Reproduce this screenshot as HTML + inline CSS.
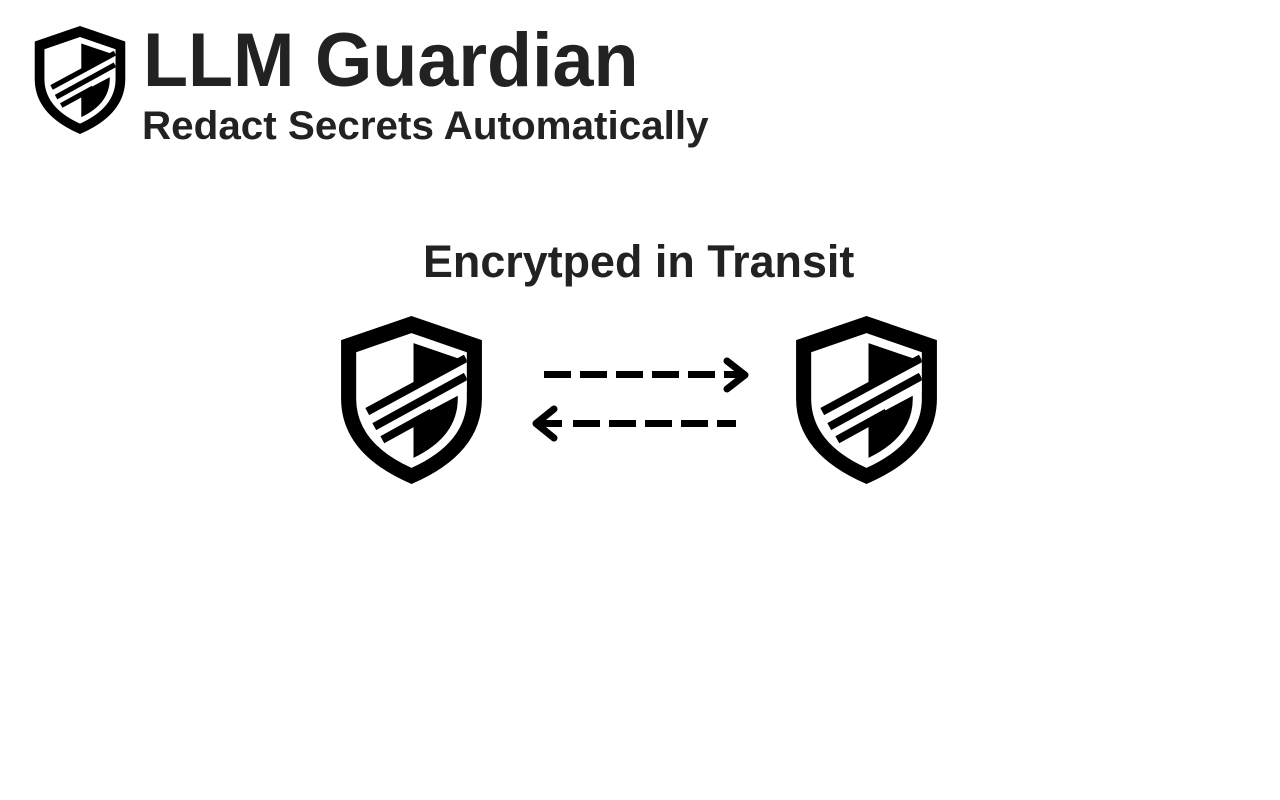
<!DOCTYPE html>
<html><head><style>
body{margin:0;width:1280px;height:800px;background:#fff;position:relative;overflow:hidden;font-family:"Liberation Sans",sans-serif;color:#222}
.t{position:absolute;font-weight:bold;white-space:nowrap;transform-origin:0 0}
</style></head><body>
<svg width="0" height="0" style="position:absolute">
<defs>
<clipPath id="inner"><path d="M70 17 L125 36 L125 82 Q125 126 70 151 Q15 126 15 82 L15 36 Z"/></clipPath>
<g id="sh">
<path d="M70 0 L140 24 L140 82 Q140 137 70 167 Q0 137 0 82 L0 24 Z" fill="#000"/>
<path d="M70 17 L125 36 L125 82 Q125 126 70 151 Q15 126 15 82 L15 36 Z" fill="#fff"/>
<g clip-path="url(#inner)">
<path d="M72 27 L116 42 L116 82 Q116 120 72 141 Z" fill="#000"/>
<line x1="30" y1="108" x2="124" y2="58" stroke="#fff" stroke-width="30"/>
<line x1="26" y1="95" x2="124" y2="42" stroke="#000" stroke-width="8"/>
<line x1="33" y1="110" x2="124" y2="60" stroke="#000" stroke-width="8"/>
<line x1="41" y1="123" x2="90" y2="96" stroke="#000" stroke-width="8"/>
</g>
</g>
</defs>
</svg>
<svg style="position:absolute;left:34px;top:26px" width="92" height="108" viewBox="0 0 140 167"><use href="#sh"/></svg>
<div class="t" style="left:143px;top:16px;font-size:76px;line-height:90px;transform:scaleX(0.97)">LLM Guardian</div>
<div class="t" style="left:142px;top:102px;font-size:40px;line-height:48px;transform:scaleX(1.01)">Redact Secrets Automatically</div>
<div class="t" style="left:423px;top:235px;font-size:45px;line-height:54px;transform:scaleX(0.997)">Encrytped in Transit</div>
<svg style="position:absolute;left:341px;top:316px" width="141" height="168" viewBox="0 0 140 167"><use href="#sh"/></svg>
<svg style="position:absolute;left:796px;top:316px" width="141" height="168" viewBox="0 0 140 167"><use href="#sh"/></svg>
<svg style="position:absolute;left:0;top:0" width="1280" height="800">
<line x1="544" y1="374.5" x2="740" y2="374.5" stroke="#000" stroke-width="7" stroke-dasharray="27 9"/>
<polyline points="727,361 745,375 727,389" fill="none" stroke="#000" stroke-width="7" stroke-linecap="round" stroke-linejoin="round"/>
<line x1="537" y1="423.5" x2="562" y2="423.5" stroke="#000" stroke-width="7"/>
<line x1="573" y1="423.5" x2="736" y2="423.5" stroke="#000" stroke-width="7" stroke-dasharray="27 9"/>
<polyline points="554,409 536,423.5 554,438" fill="none" stroke="#000" stroke-width="7" stroke-linecap="round" stroke-linejoin="round"/>
</svg>
</body></html>
